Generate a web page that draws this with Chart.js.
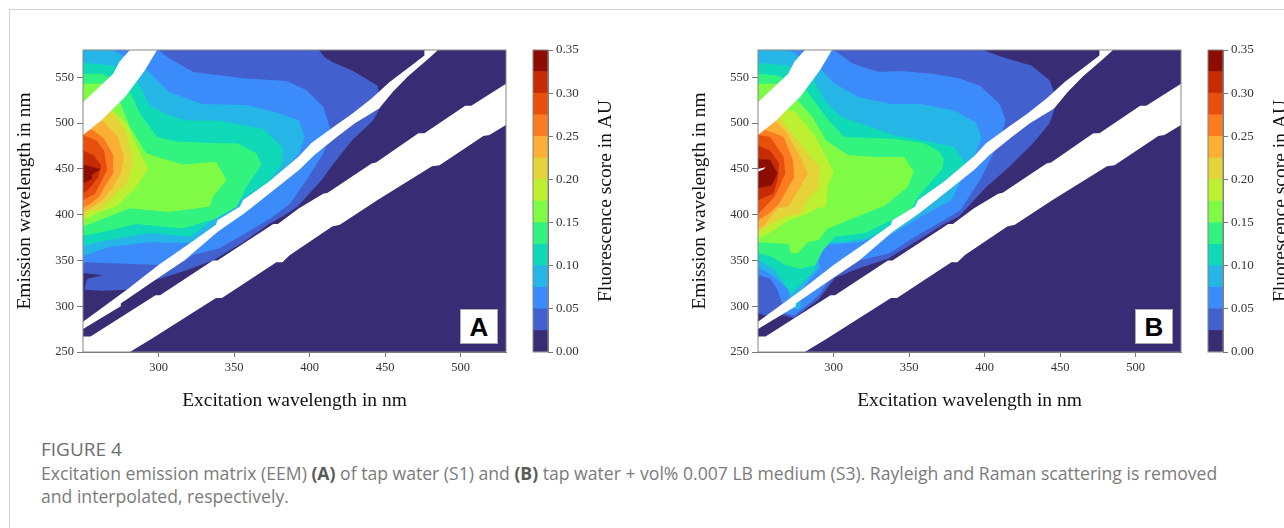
<!DOCTYPE html>
<html>
<head>
<meta charset="utf-8">
<title>Figure 4</title>
<script src="https://cdn.jsdelivr.net/npm/chart.js@4"></script>
<style>
  html, body { margin: 0; padding: 0; background: #fff; width: 1284px; height: 528px; overflow: hidden; }
  canvas { position: absolute; top: 0; }
  #frame { position: absolute; left: 9px; top: 9px; width: 1400px; height: 700px; border: 1.5px solid #d2d2d2; }
  .tag { position: absolute; top: 309px; width: 36px; height: 33px; background: #fff; border: 1px solid #aaa;
         font: bold 26px/34px "Liberation Sans", sans-serif; color: #000; text-align: center; }
  #caption { position: absolute; left: 41px; top: 438px; width: 1235px; color: #7b7b7b; font: 400 17.6px/23.5px "Open Sans", sans-serif; }
  #caption .fig { font-size: 19px; font-weight: 500; color: #6e6e6e; display: block; }
  #caption b { color: #5a5a5a; font-weight: 700; }
</style>
</head>
<body>
<div id="frame"></div>
<canvas id="panelA" width="525" height="420" style="left:0"></canvas>
<canvas id="barA" width="100" height="420" style="left:525px"></canvas>
<canvas id="panelB" width="525" height="420" style="left:675px"></canvas>
<canvas id="barB" width="100" height="420" style="left:1200px"></canvas>
<div class="tag" style="left:460px">A</div>
<div class="tag" style="left:1135px">B</div>
<div id="caption">
  <span class="fig">FIGURE 4</span>
  Excitation emission matrix (EEM) <b>(A)</b> of tap water (S1) and <b>(B)</b> tap water + vol% 0.007 LB medium (S3). Rayleigh and Raman scattering is removed<br>and interpolated, respectively.
</div>
<script>
const excitationTicks = [300, 350, 400, 450, 500];
const emissionTicks = [250, 300, 350, 400, 450, 500, 550];
const scoreTicks = [0, 0.05, 0.10, 0.15, 0.20, 0.25, 0.30, 0.35];
const bandSizes = [0.025, 0.025, 0.025, 0.025, 0.025, 0.025, 0.025, 0.025, 0.025, 0.025, 0.025, 0.025, 0.025, 0.025];
const bandColors = ['#382d75', '#4360cf', '#3c8bfb', '#25b5e6', '#10d9b8', '#33f37f', '#80fb45',
                    '#bef032', '#e4d339', '#fbaf35', '#fa7b20', '#e84e0c', '#c52c04', '#8e0d02'];

// contour outlines as [excitation, emission], one per score level
const base = [[250,250],[530,250],[530,580],[250,580]];

// panel A, tap water
const a025 = [[250,580],[406,580],[410,572],[415,567],[428,558],[445,541],[447,518],[442,503],[428,481],[415,454],[408,438],[392,409],[384,400],[373,390],[356,370],[336,350],[316,338],[301,330],[285,325],[279,318],[263,317],[251,318],[252,326],[253,330],[263,334],[251,336],[250,337]];
const a050 = [[250,580],[300,580],[307,571],[323,556],[356,549],[385,546],[398,536],[409,518],[414,492],[409,467],[398,438],[387,412],[374,396],[356,378],[340,363],[323,356],[317,349],[300,345],[252,348],[250,347]];
const a075 = [[250,580],[270,580],[291,560],[307,534],[329,521],[358,520],[378,512],[393,503],[397,485],[393,467],[387,456],[368,416],[357,401],[339,382],[321,369],[294,370],[268,365],[252,356],[250,355]];
const a100 = [[250,566],[270,563],[285,549],[294,520],[305,510],[318,503],[340,503],[369,494],[382,474],[382,456],[373,436],[350,412],[338,397],[321,376],[294,380],[263,371],[250,366]];
const a125 = [[250,554],[263,554],[279,541],[288,510],[299,485],[312,480],[340,478],[352,478],[365,467],[368,454],[358,430],[352,409],[338,396],[316,385],[285,390],[263,381],[250,377]];
const a150 = [[250,543],[263,543],[274,525],[281,496],[292,467],[305,460],[316,455],[338,458],[345,438],[336,420],[334,409],[307,403],[281,407],[250,387]];
const a175 = [[250,500],[268,516],[279,500],[288,467],[293,450],[285,430],[272,409],[261,403],[250,394]];
const a200 = [[250,500],[270,512],[278,492],[282,467],[283,456],[279,434],[270,420],[261,405],[255,405],[250,398]];
const a225 = [[250,495],[263,503],[273,485],[277,463],[275,445],[270,430],[263,416],[255,407],[250,403]];
const a250 = [[250,495],[257,492],[264,483],[270,465],[270,445],[264,430],[261,420],[255,412],[250,408]];
const a275 = [[250,487],[259,481],[264,470],[266,449],[260,430],[258,423],[250,416]];
const a300 = [[250,470],[257,465],[262,454],[260,441],[255,430],[250,423]];
const a325 = [[250,455],[257,452],[262,450],[256,444],[256,439],[251,435],[250,435]];

// panel B, tap water + LB medium
const b025 = [[250,580],[399,580],[412,572],[431,563],[443,547],[446,534],[446,514],[443,500],[432,478],[416,452],[401,430],[383,398],[373,390],[356,372],[336,352],[316,341],[301,331],[290,307],[284,300],[274,287],[268,290],[255,290],[250,292]];
const b050 = [[250,580],[300,580],[313,565],[330,556],[345,557],[365,554],[383,549],[397,541],[410,521],[414,503],[410,481],[397,438],[384,405],[371,392],[356,378],[337,358],[317,350],[300,335],[290,312],[284,303],[274,290],[268,292],[263,318],[258,330],[251,334],[250,334]];
const b075 = [[250,580],[270,580],[291,560],[301,543],[316,529],[338,521],[358,521],[380,514],[394,501],[398,485],[394,467],[390,456],[378,416],[358,398],[340,380],[317,370],[294,367],[290,350],[291,343],[279,318],[278,297],[272,297],[271,310],[270,318],[263,329],[255,338],[251,341],[250,342]];
const b100 = [[250,566],[270,563],[286,549],[295,523],[305,507],[321,498],[340,487],[360,481],[380,474],[387,456],[373,436],[337,383],[321,374],[307,370],[294,370],[288,347],[288,340],[279,325],[272,314],[268,323],[261,340],[251,350],[250,350]];
const b125 = [[250,554],[263,552],[281,538],[296,505],[307,485],[340,483],[360,478],[370,469],[373,460],[372,450],[356,420],[351,405],[338,394],[321,380],[301,376],[293,361],[288,345],[278,341],[268,345],[259,354],[251,358],[250,358]];
const b150 = [[250,543],[263,543],[275,527],[286,507],[295,481],[310,465],[329,463],[347,463],[353,447],[349,430],[334,410],[307,392],[296,385],[290,372],[283,370],[276,358],[272,358],[270,368],[251,370],[250,370]];
const b175 = [[250,500],[267,516],[275,512],[288,485],[296,460],[300,447],[296,430],[295,409],[289,407],[283,401],[270,394],[261,383],[250,374]];
const b200 = [[250,500],[263,509],[270,494],[285,463],[291,452],[290,430],[283,416],[278,401],[268,398],[261,392],[250,381]];
const b225 = [[250,495],[261,503],[269,490],[278,463],[283,445],[278,430],[270,409],[263,407],[255,390],[250,383]];
const b250 = [[250,495],[259,490],[267,485],[273,460],[274,441],[270,430],[264,412],[257,401],[250,394]];
const b275 = [[250,487],[258,485],[267,463],[268,445],[264,430],[261,420],[255,409],[250,401]];
const b300 = [[250,476],[258,470],[264,456],[263,438],[260,423],[250,416]];
const b325 = [[250,461],[258,460],[263,445],[259,432],[250,429]];
const bNotch = [[250,447],[254,450],[255,452],[250,450]];

// removed scattering, white in both panels
const rayleighWide = [[250,250],[281,250],[296,265],[338,309],[342,309],[378,348],[382,348],[387,356],[415,387],[420,389],[445,416],[481,453],[486,454],[515,486],[519,487],[530,498],[530,543],[507,519],[503,519],[476,489],[472,489],[444,457],[441,456],[412,424],[409,423],[393,407],[379,390],[376,390],[339,350],[336,350],[301,312],[298,312],[255,267],[250,267]];
const ramanStrip = [[250,275],[275,300],[275,303],[300,331],[317,350],[339,381],[357,402],[368,416],[393,449],[403,465],[418,485],[430,500],[446,516],[455,534],[465,551],[479,571],[485,580],[476,580],[476,574],[465,560],[453,545],[441,527],[428,510],[416,496],[401,478],[393,464],[373,436],[356,416],[354,409],[339,394],[338,389],[321,369],[300,345],[279,318],[255,289],[250,283]];
const secondOrder = [[250,523],[270,554],[274,567],[281,580],[299,580],[291,558],[278,529],[262,503],[250,487]];

const contoursA = [base, a025, a050, a075, a100, a125, a150, a175, a200, a225, a250, a275, a300, a325];
const contoursB = [base, b025, b050, b075, b100, b125, b150, b175, b200, b225, b250, b275, b300, b325];
const whiteA = [rayleighWide, ramanStrip, secondOrder];
const whiteB = [rayleighWide, ramanStrip, secondOrder, bNotch];

const serif = '"Liberation Serif", "Times New Roman", serif';
const axisColor = '#777';

const boxPlugin = {
    id: 'box',
    afterDraw(chart) {
        const a = chart.chartArea;
        chart.ctx.save();
        chart.ctx.strokeStyle = '#888';
        chart.ctx.lineWidth = 1;
        chart.ctx.strokeRect(a.left, a.top, a.right - a.left, a.bottom - a.top);
        chart.ctx.restore();
    }
};

// a right hand scale title would read downwards, the figure has it reading upwards
const scoreTitlePlugin = {
    id: 'scoreTitle',
    afterDraw(chart) {
        const c = chart.ctx;
        c.save();
        c.translate(81, 201);
        c.rotate(-Math.PI / 2);
        c.font = '19.5px ' + serif;
        c.fillStyle = '#111';
        c.textAlign = 'center';
        c.textBaseline = 'middle';
        c.fillText('Fluorescence score in AU', 0, 0);
        c.restore();
    }
};

function shape(points, color) {
    return {
        data: points.concat([points[0]]).map(p => ({x: p[0], y: p[1]})),
        showLine: true,
        fill: 'shape',
        tension: 0,
        backgroundColor: color,
        borderColor: color,
        borderWidth: 0,
        pointRadius: 0
    };
}

function drawPanel(id, contours, whites) {
    // first dataset is painted last
    const sets = whites.map(w => shape(w, '#fff'));
    for (let i = contours.length - 1; i >= 0; i--) sets.push(shape(contours[i], bandColors[i]));

    new Chart(document.getElementById(id), {
        type: 'scatter',
        data: { datasets: sets },
        plugins: [boxPlugin],
        options: {
            responsive: false,
            animation: false,
            layout: { padding: { top: 50, right: 19 } },
            plugins: { legend: { display: false }, tooltip: { enabled: false } },
            scales: {
                x: {
                    type: 'linear', min: 250, max: 530,
                    afterFit: s => { s.height = 68; },
                    afterBuildTicks: s => { s.ticks = excitationTicks.map(v => ({value: v})); },
                    grid: { drawOnChartArea: false, tickLength: 5, tickColor: axisColor },
                    border: { color: axisColor },
                    ticks: { color: '#333', font: { family: serif, size: 12.5 }, padding: 3, maxRotation: 0, callback: v => String(v) },
                    title: { display: true, text: 'Excitation wavelength in nm', color: '#111', font: { family: serif, size: 19.5 }, padding: 7.5 }
                },
                y: {
                    type: 'linear', min: 250, max: 580,
                    afterFit: s => { s.width = 83; },
                    afterBuildTicks: s => { s.ticks = emissionTicks.map(v => ({value: v})); },
                    grid: { drawOnChartArea: false, tickLength: 6, tickColor: axisColor },
                    border: { color: axisColor },
                    ticks: { color: '#333', font: { family: serif, size: 12.5 }, padding: 3, callback: v => String(v) },
                    title: { display: true, text: 'Emission wavelength in nm', color: '#111', font: { family: serif, size: 19.5 }, padding: 13 }
                }
            }
        }
    });
}

function drawColorbar(id) {
    new Chart(document.getElementById(id), {
        type: 'bar',
        data: {
            labels: [''],
            datasets: bandSizes.map((v, i) => ({
                data: [v], backgroundColor: bandColors[i], borderWidth: 0,
                barPercentage: 1, categoryPercentage: 1
            }))
        },
        plugins: [boxPlugin, scoreTitlePlugin],
        options: {
            responsive: false,
            animation: false,
            layout: { padding: { left: 8, top: 50, bottom: 68 } },
            plugins: { legend: { display: false }, tooltip: { enabled: false } },
            scales: {
                x: { stacked: true, display: false },
                y: {
                    stacked: true, position: 'right', min: 0, max: 0.35,
                    afterFit: s => { s.width = 77; },
                    afterBuildTicks: s => { s.ticks = scoreTicks.map(v => ({value: v})); },
                    grid: { drawOnChartArea: false, tickLength: 5, tickColor: axisColor },
                    border: { color: axisColor },
                    ticks: { color: '#333', font: { family: serif, size: 13 }, padding: 3, callback: v => v.toFixed(2) }
                }
            }
        }
    });
}

drawPanel('panelA', contoursA, whiteA);
drawPanel('panelB', contoursB, whiteB);
drawColorbar('barA');
drawColorbar('barB');
</script>
</body>
</html>
